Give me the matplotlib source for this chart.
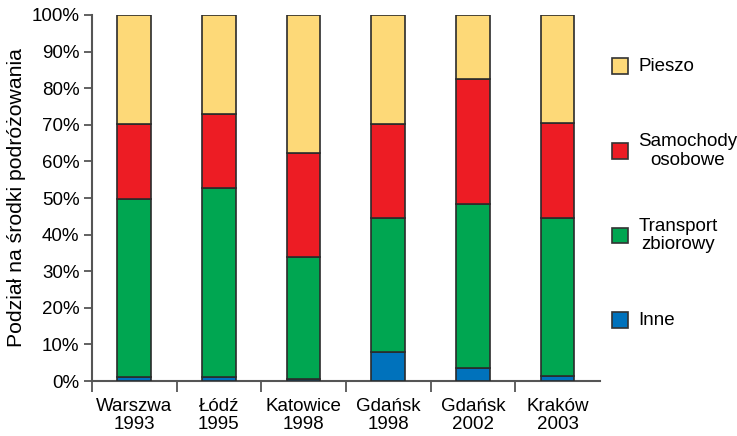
import matplotlib.pyplot as plt
from matplotlib.patches import Rectangle

plt.rcParams['font.family'] = ['Liberation Sans', 'DejaVu Sans']

# --- data (percent shares) ---
cities = ["Warszwa\n1993", "Łódź\n1995", "Katowice\n1998", "Gdańsk\n1998", "Gdańsk\n2002", "Kraków\n2003"]
inne = [1.0, 1.0, 0.5, 7.8, 3.6, 1.3]
transport = [48.8, 51.6, 33.5, 36.7, 44.8, 43.2]
samochody = [20.5, 20.4, 28.4, 25.8, 34.0, 26.0]
pieszo = [29.7, 27.0, 37.6, 29.7, 17.6, 29.5]

series_names = ["Inne", "Transport\nzbiorowy", "Samochody\nosobowe", "Pieszo"]
series_colors = ["#0072BC", "#00A651", "#ED1C24", "#FDD978"]

fig = plt.figure(figsize=(7.37, 4.36), dpi=100)
ax = fig.add_axes([0.1248, 0.1261, 0.689, 0.8395])

x = list(range(len(cities)))
bottom = [0.0] * len(cities)
for vals, color in zip([inne, transport, samochody, pieszo], series_colors):
    ax.bar(x, vals, width=0.4, bottom=bottom, color=color,
           edgecolor="#2b2b2b", linewidth=1.2, zorder=3)
    bottom = [b + v for b, v in zip(bottom, vals)]

ax.set_xlim(-0.5, len(cities) - 0.5)
ax.set_ylim(0, 100)

# y axis
ax.set_yticks(range(0, 101, 10))
ax.set_yticklabels([f"{v}%" for v in range(0, 101, 10)], fontsize=13.5)
ax.set_ylabel("Podział na środki podróżowania", fontsize=15.3, labelpad=4)

# x axis: ticks at boundaries, labels centred under bars
ax.set_xticks([i - 0.5 for i in x])
ax.set_xticklabels([])
ax.set_xticks(x, minor=True)
ax.set_xticklabels(cities, minor=True, fontsize=13.5, linespacing=1.1)
ax.tick_params(axis="x", which="major", length=8, width=1.3, color="#555555")
ax.tick_params(axis="x", which="minor", length=0, pad=12)
ax.tick_params(axis="y", length=6, width=1.3, color="#555555", pad=3)

for side in ["top", "right"]:
    ax.spines[side].set_visible(False)
for side in ["left", "bottom"]:
    ax.spines[side].set_color("#555555")
    ax.spines[side].set_linewidth(1.5)

# --- legend drawn on the right, top to bottom ---
legend_top = 0.848
step = 0.194
for i, (name, color) in enumerate(zip(series_names[::-1], series_colors[::-1])):
    yc = legend_top - i * step
    fig.patches.append(Rectangle((0.830, yc - 0.018), 0.0215, 0.036,
                                 transform=fig.transFigure, facecolor=color,
                                 edgecolor="#333333", linewidth=1.2))
    fig.text(0.866, yc, name, fontsize=13.5, va="center", ha="left",
             multialignment="center", linespacing=1.1)

plt.savefig("out.png", dpi=100)
